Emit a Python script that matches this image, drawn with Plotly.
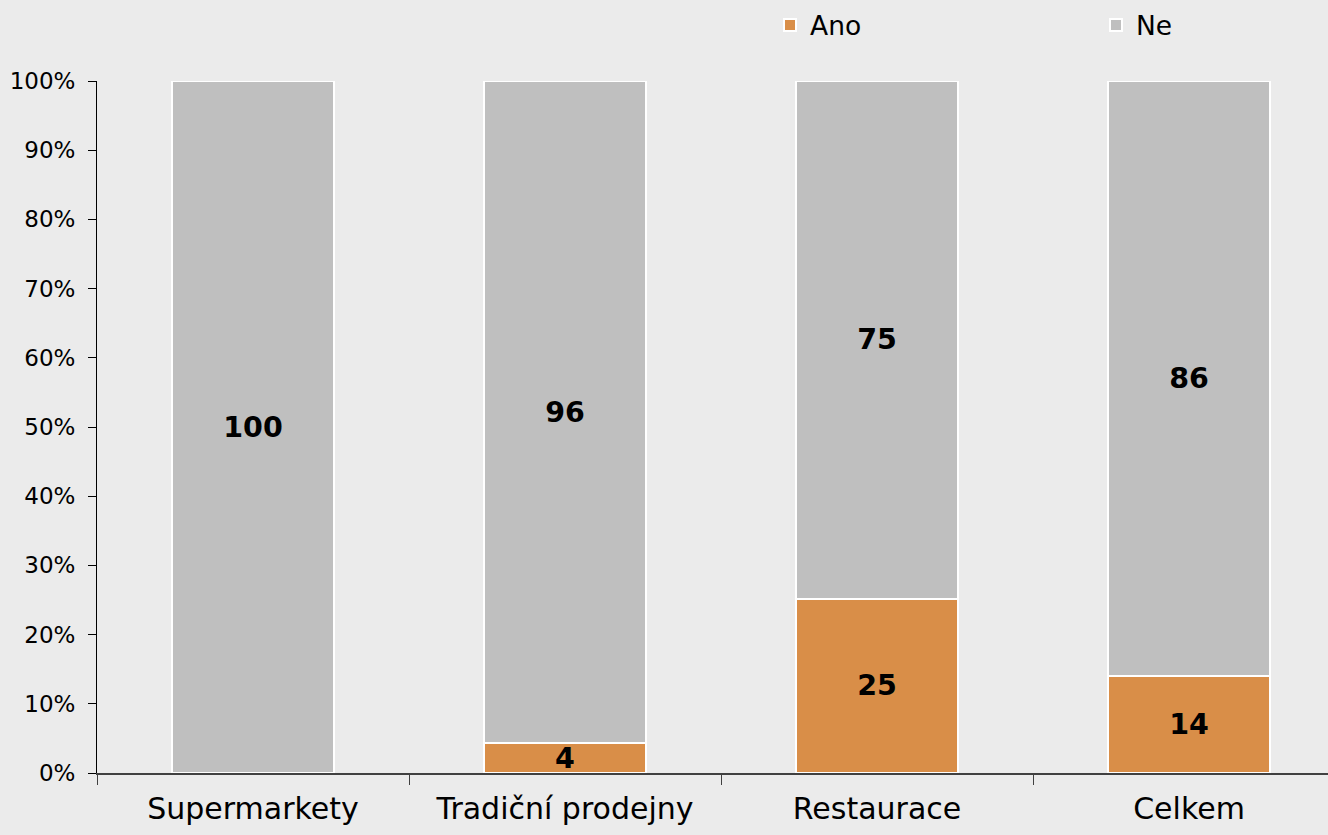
import plotly.graph_objects as go

categories = ["Supermarkety", "Tradiční prodejny", "Restaurace", "Celkem"]
ano_values = [0.0, 4.3, 25.2, 14.0]
ne_values = [100.0, 95.7, 74.8, 86.0]
ano_labels = ["", "4", "25", "14"]
ne_labels = ["100", "96", "75", "86"]
y_ticks = [0, 10, 20, 30, 40, 50, 60, 70, 80, 90, 100]
y_tick_labels = ["0%", "10%", "20%", "30%", "40%", "50%", "60%", "70%", "80%", "90%", "100%"]

FONT = "DejaVu Sans"
BG = "#ebebeb"
ORANGE = "#d98e48"
GRAY = "#bfbfbf"

fig = go.Figure()
fig.add_trace(go.Bar(
    x=categories, y=ano_values, name="Ano",
    marker=dict(color=ORANGE, line=dict(color="white", width=2)),
    text=ano_labels, textposition="inside", insidetextanchor="middle",
    constraintext="none", textangle=0,
    textfont=dict(family=FONT, size=28.5, color="black", weight="bold"),
    width=0.52,
))
fig.add_trace(go.Bar(
    x=categories, y=ne_values, name="Ne",
    marker=dict(color=GRAY, line=dict(color="white", width=2)),
    text=ne_labels, textposition="inside", insidetextanchor="middle",
    constraintext="none", textangle=0,
    textfont=dict(family=FONT, size=28.5, color="black", weight="bold"),
    width=0.52,
))

fig.update_layout(
    barmode="stack",
    width=1328, height=835,
    paper_bgcolor=BG, plot_bgcolor=BG,
    margin=dict(l=97, r=0, t=81, b=62, autoexpand=False),
    font=dict(family=FONT, color="black"),
    showlegend=True,
    legend=dict(
        orientation="h", x=(770 - 97) / 1231, xanchor="left",
        y=1.046, yanchor="bottom", yref="paper",
        entrywidth=281, entrywidthmode="pixels",
        font=dict(family=FONT, size=26.5, color="black"),
        bgcolor="rgba(0,0,0,0)", traceorder="normal",
    ),
    xaxis=dict(
        range=[-0.5, 3.5 - 17 / 312],
        showline=True, linecolor="#404040", linewidth=1.5,
        ticks="outside", tickson="boundaries", ticklen=10, tickcolor="#404040",
        tickfont=dict(family=FONT, size=30, color="black"),
        ticklabelstandoff=8,
        showgrid=False, zeroline=False, fixedrange=True,
    ),
    yaxis=dict(
        range=[0, 100], tickmode="array", tickvals=y_ticks, ticktext=y_tick_labels,
        showline=True, linecolor="black", linewidth=1,
        ticks="outside", ticklen=8, tickcolor="black",
        tickfont=dict(family=FONT, size=23, color="black"),
        ticklabelstandoff=8,
        showgrid=False, zeroline=False, fixedrange=True,
    ),
)

fig.write_html(
    "out.html",
    config={"displayModeBar": False},
    post_script="document.body.style.margin='0';document.body.style.background='#ebebeb';",
)
